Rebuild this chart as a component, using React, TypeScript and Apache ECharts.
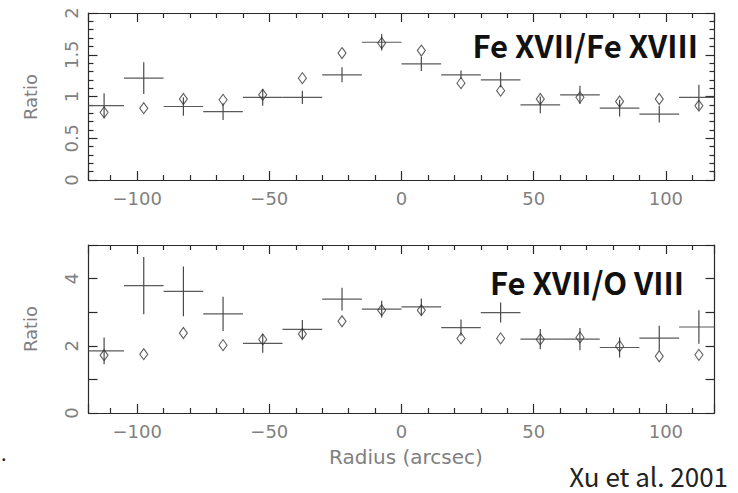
import React, { useEffect, useRef } from "react";
import * as echarts from "echarts";

// ---- data ----
const radius = [-112.5, -97.5, -82.5, -67.5, -52.5, -37.5, -22.5, -7.5, 7.5, 22.5, 37.5, 52.5, 67.5, 82.5, 97.5, 112.5];
const BIN_HALF_WIDTH = 7.5;

// Fe XVII / Fe XVIII : observed (crosses), error, model (diamonds)
const feFeRatio = [0.89, 1.22, 0.88, 0.82, 0.99, 0.99, 1.26, 1.65, 1.39, 1.26, 1.2, 0.9, 1.02, 0.86, 0.79, 0.99];
const feFeErr = [0.15, 0.19, 0.11, 0.1, 0.1, 0.08, 0.09, 0.1, 0.085, 0.05, 0.09, 0.1, 0.11, 0.1, 0.1, 0.15];
const feFeModel = [0.81, 0.86, 0.97, 0.96, 1.02, 1.22, 1.52, 1.64, 1.55, 1.16, 1.07, 0.97, 0.99, 0.94, 0.97, 0.89];

// Fe XVII / O VIII
const feORatio = [1.85, 3.79, 3.62, 2.95, 2.07, 2.49, 3.39, 3.09, 3.16, 2.54, 2.99, 2.2, 2.2, 1.95, 2.23, 2.56];
const feOErr = [0.4, 0.85, 0.74, 0.51, 0.28, 0.28, 0.34, 0.25, 0.25, 0.24, 0.3, 0.3, 0.33, 0.3, 0.37, 0.5];
const feOModel = [1.72, 1.75, 2.38, 2.02, 2.19, 2.35, 2.73, 3.06, 3.06, 2.22, 2.22, 2.19, 2.25, 1.99, 1.69, 1.73];

const xTickLabels = ["\u2212100", "\u221250", "0", "50", "100"];
const topLabel = "Fe XVII/Fe XVIII";
const bottomLabel = "Fe XVII/O VIII";
const yName = "Ratio";
const xName = "Radius (arcsec)";
const credit = "Xu et al. 2001";

const FRAME = "#2a2a2a";
const MARK = "#4a4a4a";
const LABEL = "#808080";
const TICK_FONT = "DejaVu Sans";

export default function App() {
  const ref = useRef<HTMLDivElement>(null);
  useEffect(() => {
    if (!ref.current) return;
    const chart = echarts.init(ref.current, null, { renderer: "svg" });

    const xLabelFmt = (v: number) => {
      if (Math.abs(v % 50) > 1e-6) return "";
      const idx = Math.round(v / 50) + 2;
      return xTickLabels[idx] ?? "";
    };

    const xAxisBase = (grid: number, position: "bottom" | "top") => ({
      type: "value",
      gridIndex: grid,
      position,
      min: -118.4,
      max: 118.4,
      splitNumber: 5,
      minInterval: 50,
      maxInterval: 50,
      axisLine: { show: true, onZero: false, lineStyle: { color: FRAME, width: 1.2 } },
      axisTick: { show: true, inside: true, length: 9, lineStyle: { color: FRAME, width: 1.2 } },
      minorTick: { show: true, splitNumber: 5, length: 5, lineStyle: { color: FRAME, width: 1.2 } },
      splitLine: { show: false },
      minorSplitLine: { show: false },
      axisLabel: position === "bottom"
        ? { show: true, formatter: xLabelFmt, color: LABEL, fontFamily: TICK_FONT, fontSize: 18, margin: 9, showMinLabel: true, showMaxLabel: true, hideOverlap: false }
        : { show: false },
    });

    const yAxisBase = (grid: number, position: "left" | "right", max: number, interval: number, minor: boolean, fmt: (v: number) => string) => ({
      type: "value",
      gridIndex: grid,
      position,
      min: 0,
      max,
      interval,
      axisLine: { show: true, onZero: false, lineStyle: { color: FRAME, width: 1.2 } },
      axisTick: { show: true, inside: true, length: 9, lineStyle: { color: FRAME, width: 1.2 } },
      minorTick: { show: minor, splitNumber: 5, length: 5, lineStyle: { color: FRAME, width: 1.2 } },
      splitLine: { show: false },
      axisLabel: position === "left"
        ? { show: true, rotate: 90, formatter: fmt, color: LABEL, fontFamily: TICK_FONT, fontSize: 18, margin: 8 }
        : { show: false },
    });

    const crossSeries = (xi: number, yi: number, vals: number[], errs: number[]) => ({
      type: "custom",
      xAxisIndex: xi,
      yAxisIndex: yi,
      data: radius.map((r, i) => [r, vals[i], errs[i]]),
      renderItem: (params: any, api: any) => {
        const x = api.value(0);
        const y = api.value(1);
        const e = api.value(2);
        const l = api.coord([x - BIN_HALF_WIDTH, y]);
        const r = api.coord([x + BIN_HALF_WIDTH, y]);
        const t = api.coord([x, y + e]);
        const b = api.coord([x, y - e]);
        const cs = params.coordSys;
        const x0 = Math.max(l[0], cs.x);
        const x1 = Math.min(r[0], cs.x + cs.width);
        const style = { stroke: MARK, lineWidth: 1.2, fill: null };
        return {
          type: "group",
          children: [
            { type: "line", shape: { x1: x0, y1: l[1], x2: x1, y2: r[1] }, style: { ...style, stroke: "#5a5a5a" } },
            { type: "line", shape: { x1: t[0], y1: t[1], x2: b[0], y2: b[1] }, style },
          ],
        };
      },
      z: 3,
    });

    const diamondSeries = (xi: number, yi: number, vals: number[]) => ({
      type: "scatter",
      xAxisIndex: xi,
      yAxisIndex: yi,
      data: radius.map((r, i) => [r, vals[i]]),
      symbol: "diamond",
      symbolSize: [8, 11],
      itemStyle: { color: "rgba(255,255,255,0)", borderColor: "#333", borderWidth: 1.1 },
      z: 4,
    });

    chart.setOption({
      animation: false,
      backgroundColor: "#ffffff",
      grid: [
        { left: 88.5, top: 13, width: 626, height: 167 },
        { left: 88.5, top: 245, width: 626, height: 168 },
      ],
      xAxis: [xAxisBase(0, "bottom"), xAxisBase(0, "top"), xAxisBase(1, "bottom"), xAxisBase(1, "top")],
      yAxis: [
        yAxisBase(0, "left", 2, 0.5, true, (v: number) => String(v)),
        yAxisBase(0, "right", 2, 0.5, true, (v: number) => String(v)),
        yAxisBase(1, "left", 5, 1, false, (v: number) => (Math.round(v) % 2 === 0 ? String(v) : "")),
        yAxisBase(1, "right", 5, 1, false, (v: number) => String(v)),
      ],
      series: [
        crossSeries(0, 0, feFeRatio, feFeErr),
        diamondSeries(0, 0, feFeModel),
        crossSeries(2, 2, feORatio, feOErr),
        diamondSeries(2, 2, feOModel),
      ],
      graphic: [
        { type: "text", x: 30, y: 97, rotation: Math.PI / 2, style: { text: yName, fill: LABEL, font: `18px "${TICK_FONT}"`, textAlign: "center", textVerticalAlign: "middle" } },
        { type: "text", x: 30, y: 329, rotation: Math.PI / 2, style: { text: yName, fill: LABEL, font: `18px "${TICK_FONT}"`, textAlign: "center", textVerticalAlign: "middle" } },
        { type: "text", x: 406, y: 457, style: { text: xName, fill: LABEL, font: `20px "${TICK_FONT}"`, textAlign: "center", textVerticalAlign: "middle" } },
        { type: "text", x: 698, y: 44, style: { text: topLabel, fill: "#111", font: `bold 31px "Noto Sans CJK JP"`, textAlign: "right", textVerticalAlign: "middle" } },
        { type: "text", x: 684, y: 281, style: { text: bottomLabel, fill: "#111", font: `bold 31px "Noto Sans CJK JP"`, textAlign: "right", textVerticalAlign: "middle" } },
        { type: "text", x: 728, y: 475, style: { text: credit, fill: "#222", font: `26px "Noto Sans CJK JP"`, textAlign: "right", textVerticalAlign: "middle" } },
        { type: "text", x: 1, y: 452, style: { text: ".", fill: "#222", font: `20px "Noto Sans CJK JP"`, textAlign: "left", textVerticalAlign: "middle" } },
      ],
    });
    return () => chart.dispose();
  }, []);
  return <div ref={ref} style={{ position: "fixed", left: 0, top: 0, width: 738, height: 493, background: "#fff" }} />;
}
